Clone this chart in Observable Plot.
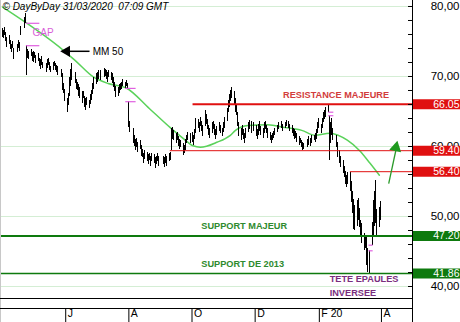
<!DOCTYPE html>
<html>
<head>
<meta charset="utf-8">
<script src="https://cdn.jsdelivr.net/npm/d3@7"></script>
<script src="https://cdn.jsdelivr.net/npm/@observablehq/plot@0.6"></script>
<style>
  html, body { margin: 0; padding: 0; background: #fff; }
  #chart svg { display: block; }
</style>
</head>
<body>
<div id="chart"></div>
<script>
// ---- Data ----
const title = "© DayByDay 31/03/2020\u00a0 07:09 GMT";
const holidays = ["2019-04-19","2019-05-27","2019-07-04","2019-09-02","2019-11-28","2019-12-25","2020-01-01","2020-01-20","2020-02-17"];

// daily lows / highs (Apr 2019 .. Mar 2020)
const lows = [
  75.6,75.4,75.8,75.0,74.2,74.6,73.8,73.4,74.0,72.4,73.4,74.0,73.6,75.8,76.8,77.6,70.1,72.6,72.4,72.8,72.2,
  72.0,72.6,71.8,72.2,71.4,71.0,71.6,71.2,70.6,71.2,71.6,70.8,70.5,70.9,71.4,70.8,70.6,70.2,69.8,68.0,67.6,66.4,
  64.9,65.8,67.2,68.6,69.4,69.0,68.2,68.0,67.2,66.8,66.2,66.8,65.6,65.1,65.8,65.4,66.0,66.6,67.4,68.2,
  68.8,69.2,69.6,69.4,69.8,70.0,69.6,69.2,69.8,69.4,69.0,68.4,67.8,67.0,67.2,67.6,68.0,68.2,68.6,68.3,68.6,68.3,
  62.7,62.0,60.4,60.0,59.4,59.8,59.2,59.6,58.6,58.4,57.6,58.2,57.8,57.4,58.0,57.2,57.8,57.6,56.9,57.4,57.8,57.2,
  57.4,57.0,57.6,57.2,57.8,58.0,59.4,61.0,60.8,60.4,60.9,60.0,59.6,59.8,58.7,59.0,59.4,60.4,60.8,60.5,
  60.6,60.2,61.0,61.8,62.6,62.0,62.8,62.2,61.4,62.8,63.2,62.4,61.6,61.2,61.8,62.4,61.6,61.0,61.6,62.2,61.8,61.4,62.0,
  62.6,63.6,64.8,65.6,66.4,66.8,66.0,64.8,64.4,62.8,61.4,60.9,61.6,61.0,60.4,61.2,62.0,62.4,61.8,62.2,
  61.4,61.0,61.6,62.2,61.6,61.2,61.8,62.4,61.8,61.2,60.8,60.4,60.8,61.2,61.6,62.0,62.4,62.6,62.2,62.6,62.8,
  62.6,62.2,61.8,61.4,61.0,61.2,60.6,60.2,60.4,59.8,59.4,59.6,59.8,60.2,60.0,60.4,60.8,60.6,61.0,61.8,62.6,
  61.8,62.6,63.4,63.8,64.2,64.9,58.0,60.4,61.6,60.8,59.8,58.4,57.6,57.0,56.2,55.6,54.6,54.1,54.6,
  53.6,52.0,50.4,48.2,48.0,48.6,49.4,48.4,47.2,46.2,45.1,45.4,43.0,42.0,41.9,45.9,47.0,48.6,49.0,47.2,48.4,49.4
];
const highs = [
  76.8,76.5,77.0,76.3,75.5,75.8,75.2,74.6,75.0,74.0,74.6,75.2,74.8,77.2,78.4,79.0,74.4,73.8,73.6,73.8,73.4,
  73.6,73.4,73.0,73.3,72.6,72.4,72.8,72.0,71.8,72.4,72.6,72.0,71.4,72.0,72.2,71.9,71.6,71.4,71.0,70.4,69.0,68.2,
  66.8,67.6,69.8,71.0,71.9,70.6,69.6,69.2,68.8,68.4,67.8,67.9,67.2,66.8,67.0,66.6,67.4,68.0,69.0,69.8,
  70.4,70.6,70.8,70.9,71.1,71.0,70.8,70.6,70.9,70.6,70.4,69.8,69.2,68.6,68.4,68.8,69.0,69.2,69.6,69.2,69.4,69.0,
  66.4,63.6,62.6,61.6,61.0,61.2,60.6,60.9,60.2,59.6,59.0,59.4,59.2,58.8,59.0,58.6,59.0,58.8,58.4,58.6,59.0,58.6,
  58.6,58.4,58.8,58.6,59.0,59.2,62.6,62.7,62.3,61.8,62.0,61.4,61.0,60.9,60.4,60.2,61.0,61.6,62.0,61.9,
  62.0,61.6,62.4,64.0,63.8,63.4,64.2,63.6,63.0,65.1,64.6,63.8,63.0,62.6,63.4,63.6,63.2,62.4,62.8,63.4,63.0,62.6,63.4,
  64.2,65.4,66.6,67.4,68.0,68.4,67.8,66.8,65.8,64.8,63.4,62.6,63.0,62.4,61.8,62.6,63.4,63.7,63.6,63.4,
  63.0,62.4,63.2,63.6,62.8,62.6,63.4,63.6,63.0,62.6,62.0,61.6,61.8,62.2,62.6,63.0,63.4,63.6,63.2,63.4,63.7,
  63.6,63.2,63.0,62.6,62.4,62.2,61.8,61.4,61.2,60.9,60.6,60.4,61.0,61.4,61.2,61.6,61.6,61.8,62.4,63.4,64.0,
  63.2,64.0,64.8,65.2,65.6,65.9,64.4,63.4,64.0,62.6,61.6,60.6,59.4,58.6,58.0,57.2,56.4,55.8,56.3,
  56.3,55.0,53.6,52.4,51.6,52.3,52.6,51.2,49.4,49.0,47.6,47.2,47.0,45.4,45.1,49.2,52.3,53.6,55.1,51.0,51.3,52.2
];

// 50-day moving average
const maDates = ["2019-04-01","2019-05-30","2019-06-10","2019-06-28","2019-07-12","2019-07-29","2019-08-21","2019-09-10","2019-09-23","2019-10-02","2019-10-09","2019-10-25","2019-11-07","2019-11-12","2019-11-24","2019-12-13","2019-12-30","2020-01-15","2020-01-28","2020-02-11","2020-02-28","2020-03-11","2020-03-21","2020-03-30"];
const maValues = [79.9,73.7,72.3,69.9,69.0,68.4,65.4,62.7,61.1,60.1,59.9,60.6,61.6,62.3,63.0,63.1,62.7,62.3,61.6,61.9,60.9,59.4,57.6,55.9];

// horizontal levels
const levels = [66.05, 59.40, 56.40, 47.20, 41.86];
const levelStarts = ["2019-10-02", "2019-09-10", "2020-03-02", null, null];
const levelKinds = ["resistance", "resistance", "resistance", "support", "support"];

// gap markers
const gapStarts = ["2019-04-24","2019-04-24","2019-07-29","2019-07-29","2020-02-10","2020-02-10","2020-03-20","2020-03-20"];
const gapEnds   = ["2019-05-07","2019-05-07","2019-08-08","2019-08-08","2020-02-15","2020-02-15","2020-03-24","2020-03-24"];
const gapLevels = [77.6, 74.4, 68.3, 66.4, 64.9, 64.4, 45.9, 45.1];

// annotations
const noteTexts  = ["RESISTANCE MAJEURE", "SUPPORT MAJEUR", "SUPPORT DE 2013", "TETE EPAULES", "INVERSEE"];
const noteDates  = ["2019-12-28", "2019-10-10", "2019-10-10", "2020-02-11", "2020-02-11"];
const noteValues = [67.3, 48.57, 43.14, 41.0, 39.0];
const noteKinds  = ["resistance", "support", "support", "pattern", "pattern"];

// axes
const yTicks = [40, 50, 60, 70, 80];
const xTickDates = ["2019-06-01","2019-08-01","2019-10-01","2019-12-01","2020-02-01","2020-04-01"];
const xTickLabels = ["J","A","O","D","F 20","A"];

// ---- Build ----
const parse = d3.utcParse("%Y-%m-%d");
const fmtDay = d3.utcFormat("%Y-%m-%d");
const xDomain = [parse("2019-03-30"), parse("2020-05-01")];
const allDays = d3.utcDay.range(parse("2019-04-01"), parse("2020-04-01"))
  .filter(d => d.getUTCDay() % 6 !== 0 && !holidays.includes(fmtDay(d)));
const days = allDays.slice(-lows.length);
const bars = lows.map((lo, i) => ({date: days[i], low: lo, high: highs[i]}));
const ma = maDates.map((d, i) => ({date: parse(d), value: maValues[i]}));
const lv = levels.map((v, i) => ({value: v, start: levelStarts[i] ? parse(levelStarts[i]) : xDomain[0], end: xDomain[1], kind: levelKinds[i]}));
const gaps = gapLevels.map((v, i) => ({x1: parse(gapStarts[i]), x2: parse(gapEnds[i]), value: v}));
const notes = noteTexts.map((t, i) => ({text: t, date: parse(noteDates[i]), value: noteValues[i], kind: noteKinds[i]}));
const xTicks = xTickDates.map((d, i) => ({date: parse(d), label: xTickLabels[i]}));

const RED = "#e01010", GREEN = "#0e7a0e";
const noteColor = {resistance: "#d23c3c", support: "#2e8a2e", pattern: "#7a2e7e"};
const font = "'Liberation Sans', Arial, sans-serif";

const chart = Plot.plot({
  width: 460, height: 322,
  marginTop: 0, marginRight: 48, marginBottom: 24, marginLeft: 0,
  style: {fontFamily: font, background: "#fff", overflow: "visible"},
  x: {type: "utc", domain: xDomain, axis: null},
  y: {domain: [38.286, 80.857], axis: null},
  marks: [
    Plot.ruleY(yTicks, {y: d => d, stroke: "#d4eed4"}),
    // 50-day MA
    Plot.line(ma, {x: "date", y: "value", stroke: "#5ad25a", strokeWidth: 1.5, curve: "monotone-x"}),
    // price bars
    Plot.ruleX(bars, {x: "date", y1: "low", y2: "high", stroke: "#000", strokeWidth: 1, shapeRendering: "crispEdges"}),
    // gap markers
    Plot.ruleY(gaps, {y: "value", x1: "x1", x2: "x2", stroke: "#e060e0", strokeWidth: 1.2}),
    // levels
    Plot.ruleY(lv, {y: "value", x1: "start", x2: "end", stroke: d => d.kind === "resistance" ? RED : GREEN,
      strokeWidth: (d, i) => (i === 0 || i === 3) ? 2 : (i === 4 ? 1.5 : 1)}),
    // annotations
    Plot.text(notes, {x: "date", y: "value", text: "text", textAnchor: "start", fill: d => noteColor[d.kind],
      fontSize: 9.2, fontWeight: "bold"}),
    Plot.text([{date: parse("2019-04-30"), value: 76.3}], {x: "date", y: "value", text: () => "GAP", textAnchor: "start", fill: "#d860d8", fontSize: 10}),
    Plot.text([{date: parse("2019-06-27"), value: 73.6}], {x: "date", y: "value", text: () => "MM 50", textAnchor: "start", fill: "#000", fontSize: 10}),
    // MM 50 arrow
    Plot.link([{x1: parse("2019-06-24"), x2: parse("2019-06-03"), y: 73.6}], {x1: "x1", x2: "x2", y1: "y", y2: "y", stroke: "#000", strokeWidth: 1.5}),
    Plot.dot([{x: parse("2019-06-02"), y: 73.6}], {x: "x", y: "y", symbol: "triangle", rotate: -90, r: 4.2, fill: "#000", stroke: "none"}),
    // green arrow
    Plot.link([{x1: parse("2020-04-08"), y1: 54.7, x2: parse("2020-04-15"), y2: 59.5}], {x1: "x1", y1: "y1", x2: "x2", y2: "y2", stroke: "#2a9a2a", strokeWidth: 1.3}),
    Plot.dot([{x: parse("2020-04-15"), y: 59.85}], {x: "x", y: "y", symbol: "triangle", rotate: 12, r: 4.5, fill: "#1f9a1f", stroke: "none"}),
    // title
    Plot.text([title], {frameAnchor: "top-left", dx: 2, dy: 6, text: d => d, fontStyle: "italic", fontSize: 10, fill: "#000", lineAnchor: "middle"}),
    // frames
    Plot.frame({anchor: "left", stroke: "#c8c8c8", insetBottom: -24}),
    Plot.frame({anchor: "bottom", stroke: "#000"}),
    Plot.frame({anchor: "bottom", stroke: "#000", insetBottom: -10}),
    Plot.frame({anchor: "right", stroke: "#000", insetBottom: -24}),
    // x ticks and labels
    Plot.tickX(xTicks, {x: "date", insetTop: 308, insetBottom: -24, stroke: "#000"}),
    Plot.text(xTicks, {x: "date", text: "label", frameAnchor: "bottom", dy: 18, dx: 2, textAnchor: "start", fontSize: 10.5, fill: "#000"}),
    // y ticks & labels
    Plot.tickY(d3.range(40, 81, 2), {y: d => d, insetLeft: 408, stroke: "#000"}),
    Plot.text(yTicks, {y: d => d, text: d => d.toFixed(2).replace(".", ","), frameAnchor: "right", dx: 47, textAnchor: "end", fontSize: 11.5, fill: "#000"}),
    // value tags
    Plot.tickY(lv, {y: "value", stroke: d => d.kind === "resistance" ? RED : GREEN, strokeWidth: 10, insetLeft: 413, insetRight: -48}),
    Plot.text(lv, {y: "value", text: d => d.value.toFixed(2), frameAnchor: "right", dx: 47, textAnchor: "end", fontSize: 10.5, fill: "#fff"})
  ]
});
document.getElementById("chart").appendChild(chart);
</script>
</body>
</html>
